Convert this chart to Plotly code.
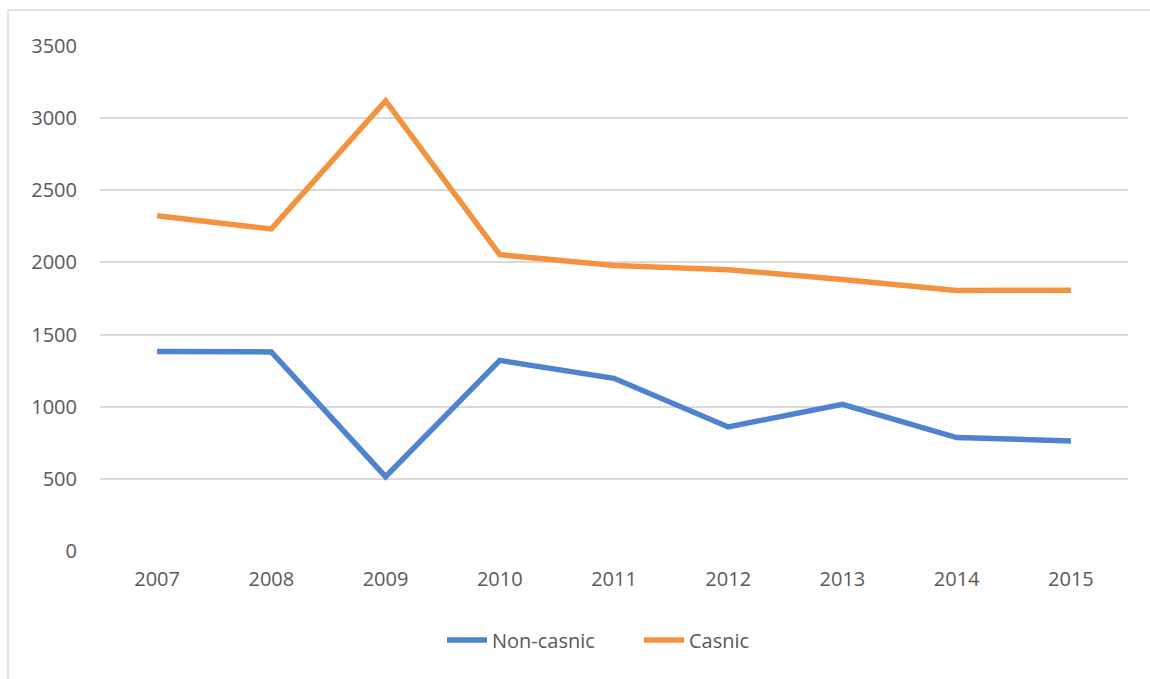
import plotly.graph_objects as go

years = ["2007", "2008", "2009", "2010", "2011", "2012", "2013", "2014", "2015"]
non_casnic = [1383, 1380, 515, 1321, 1197, 860, 1017, 786, 763]
casnic = [2324, 2232, 3119, 2054, 1978, 1950, 1881, 1805, 1808]
y_ticks = [0, 500, 1000, 1500, 2000, 2500, 3000, 3500]

W, H = 1150, 679
L, R, T, B = 100, 22, 46, 128
pw = W - L - R
ph = H - T - B

fig = go.Figure()
fig.add_trace(go.Scatter(x=years, y=non_casnic, mode="lines", name="Non-casnic",
                         line=dict(color="#4F83CF", width=5.5)))
fig.add_trace(go.Scatter(x=years, y=casnic, mode="lines", name="Casnic",
                         line=dict(color="#F3923F", width=5.5)))

def px_x(p):
    return (p - L) / pw

def px_y(p):
    return (H - B - p) / ph

border = "#D9D9D9"
fig.add_shape(type="line", xref="paper", yref="paper",
              x0=px_x(8), x1=px_x(8), y0=px_y(10), y1=px_y(H + 5),
              line=dict(color=border, width=1.5))
fig.add_shape(type="line", xref="paper", yref="paper",
              x0=px_x(8), x1=px_x(W + 5), y0=px_y(10), y1=px_y(10),
              line=dict(color=border, width=1.5))

fig.update_layout(
    width=W, height=H,
    margin=dict(l=L, r=R, t=T, b=B),
    paper_bgcolor="white", plot_bgcolor="white",
    font=dict(family="Open Sans, Liberation Sans, sans-serif", size=20, color="#595959"),
    showlegend=True,
    legend=dict(orientation="h", x=px_x(442), xanchor="left", y=px_y(640), yanchor="middle",
                font=dict(size=20, color="#595959"), itemwidth=40, tracegroupgap=0,
                entrywidth=142, entrywidthmode="pixels"),
    xaxis=dict(type="category", range=[-0.5, len(years) - 0.5], showgrid=False,
               showline=False, zeroline=False, ticks="",
               tickfont=dict(size=20, color="#595959"), ticklabelstandoff=14),
    yaxis=dict(range=[0, 3500], tickvals=y_ticks, showgrid=True, gridcolor="#D9D9D9",
               gridwidth=1.5, zeroline=False, showline=False, ticks="",
               tickfont=dict(size=20, color="#595959"), ticklabelstandoff=22),
)

fig.write_html("out.html", config={"displayModeBar": False},
               post_script="document.body.style.margin='0';document.body.style.overflow='hidden';")
